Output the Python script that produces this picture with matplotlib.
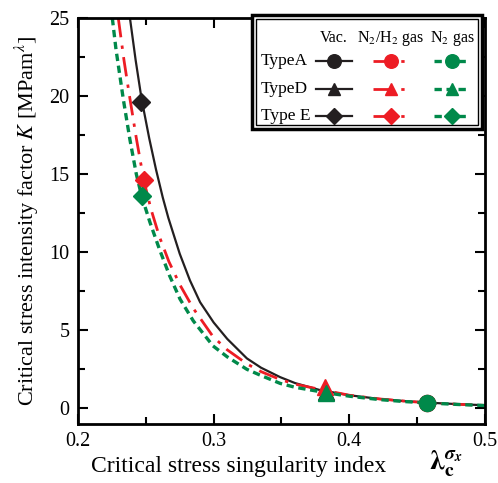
import matplotlib.pyplot as plt
from matplotlib.patches import Rectangle
from matplotlib.ticker import MultipleLocator
from matplotlib.lines import Line2D

plt.rcParams['font.family'] = ['Liberation Serif', 'DejaVu Serif']
plt.rcParams['mathtext.fontset'] = 'stix'

# curves (lambda, K)
vac_x = [0.2383, 0.2425, 0.2469, 0.2525, 0.2575, 0.2625, 0.2666, 0.275, 0.2825, 0.29, 0.30, 0.31,
         0.3245, 0.335, 0.349, 0.36, 0.378, 0.40, 0.4225, 0.44, 0.457, 0.48, 0.5]
vac_k = [25.0, 22.3, 19.8, 17.3, 15.3, 13.5, 12.2, 9.9, 8.2, 6.8, 5.5, 4.45,
         3.2, 2.6, 2.0, 1.62, 1.18, 0.84, 0.6, 0.47, 0.37, 0.27, 0.2]
h2_x = [0.2297, 0.2339, 0.2378, 0.2430, 0.2485, 0.2540, 0.2600, 0.2670, 0.2752, 0.285, 0.2995, 0.31,
        0.3245, 0.335, 0.349, 0.36, 0.382, 0.40, 0.4225, 0.44, 0.457, 0.48, 0.5]
h2_k = [25.0, 22.3, 20.1, 17.3, 14.6, 12.7, 11.0, 9.4, 7.9, 6.4, 4.6, 3.75,
        2.85, 2.35, 1.85, 1.55, 1.15, 0.84, 0.6, 0.47, 0.36, 0.26, 0.19]
n2_x = [0.2253, 0.2280, 0.2334, 0.2383, 0.2430, 0.2469, 0.2531, 0.2600, 0.2675, 0.2752, 0.285, 0.2995,
        0.31, 0.3245, 0.335, 0.349, 0.36, 0.383, 0.40, 0.4225, 0.44, 0.457, 0.48, 0.5]
n2_k = [25.0, 23.0, 19.8, 17.2, 15.0, 13.6, 11.9, 10.2, 8.5, 7.0, 5.6, 4.0,
        3.3, 2.5, 2.1, 1.6, 1.35, 1.0, 0.78, 0.56, 0.44, 0.35, 0.25, 0.18]

# measured points: type A (circle), D (triangle), E (diamond)
vac_pts_x = [0.457, 0.383, 0.2465]
vac_pts_k = [0.35, 1.05, 19.6]
h2_pts_x = [0.457, 0.382, 0.2485]
h2_pts_k = [0.35, 1.4, 14.6]
n2_pts_x = [0.457, 0.383, 0.2469]
n2_pts_k = [0.35, 1.0, 13.6]

markers = ['o', '^', 'D']
msizes = [11.5, 11, 9]
row_labels = ['TypeA', 'TypeD', 'Type E']
col_labels = ['Vac.', 'N$_2$/H$_2$ gas', 'N$_2$ gas']

black = '#231f20'
red = '#ed1c24'
green = '#00894a'

styles = [
    dict(color=black, ls='-', lw=1.6),
    dict(color=red, ls=(0, (7, 3, 1.2, 3)), lw=2.0),
    dict(color=green, ls=(0, (2.2, 1.4)), lw=2.4),
]

fig = plt.figure(figsize=(4.98, 4.83), dpi=100)
ax = fig.add_axes([0.1566, 0.1222, 0.8173, 0.8405])

series = [(vac_x, vac_k, vac_pts_x, vac_pts_k),
          (h2_x, h2_k, h2_pts_x, h2_pts_k),
          (n2_x, n2_k, n2_pts_x, n2_pts_k)]
for (cx, ck, px, pk), st in zip(series, styles):
    ax.plot(cx, ck, zorder=2, **st)
for (cx, ck, px, pk), st in zip(series, styles):
    for x, k, m, s in zip(px, pk, markers, msizes):
        ax.plot([x], [k], marker=m, ms=s, color=st['color'], ls='none', zorder=3)

ax.set_xlim(0.2, 0.5)
ax.set_ylim(-1, 25)
ax.set_xticks([0.2, 0.3, 0.4, 0.5])
ax.set_xticklabels(['0.2', '0.3', '0.4', '0.5'])
ax.xaxis.set_minor_locator(MultipleLocator(0.05))
ax.yaxis.set_major_locator(MultipleLocator(5))
ax.yaxis.set_minor_locator(MultipleLocator(2.5))
ax.tick_params(which='both', direction='in', top=True, right=True, width=1.5,
               labelsize=14.5, pad=6)
ax.tick_params(which='major', length=7)
ax.tick_params(which='minor', length=5)
for sp in ax.spines.values():
    sp.set_linewidth(2)

ax.set_ylabel('Critical stress intensity factor $K$ [MPam$^{\\lambda}$]', fontsize=16, labelpad=6)
fig.text(0.48, 0.035, 'Critical stress singularity index', fontsize=17, ha='center', va='center')
fig.text(0.862, 0.04, r'$\boldsymbol{\lambda}_{\mathbf{c}}^{\boldsymbol{\sigma}_{\boldsymbol{x}}}$',
         fontsize=20, ha='left', va='center')

# legend box drawn by hand (pixel coords of the figure)
W, H = 498.0, 483.0
def fx(p):
    return p / W
def fy(p):
    return 1 - p / H

outer = Rectangle((fx(252), fy(129)), fx(482) - fx(252), fy(15) - fy(129),
                  transform=fig.transFigure, fill=True, facecolor='white',
                  edgecolor='black', lw=2.5, zorder=5)
inner = Rectangle((fx(256), fy(125)), fx(478) - fx(256), fy(19) - fy(125),
                  transform=fig.transFigure, fill=False, edgecolor='black', lw=1, zorder=6)
fig.add_artist(outer)
fig.add_artist(inner)

col_cx = [334, 391, 452]
row_cy = [61, 89, 116]
for cx, lab in zip(col_cx, col_labels):
    fig.text(fx(cx), fy(38), lab, fontsize=11.5, ha='center', va='center', zorder=7)
for cy, lab in zip(row_cy, row_labels):
    fig.text(fx(261), fy(cy), lab, fontsize=12.5, ha='left', va='center', zorder=7)
for cx, st in zip(col_cx, styles):
    for cy, m, s in zip(row_cy, markers, msizes):
        ln = Line2D([fx(cx - 18), fx(cx + 18)], [fy(cy), fy(cy)], transform=fig.transFigure,
                    zorder=7, **st)
        fig.add_artist(ln)
        mk = Line2D([fx(cx)], [fy(cy)], transform=fig.transFigure, marker=m,
                    ms=s * 0.85, color=st['color'], ls='none', zorder=8)
        fig.add_artist(mk)

fig.savefig('out.png', dpi=100)
